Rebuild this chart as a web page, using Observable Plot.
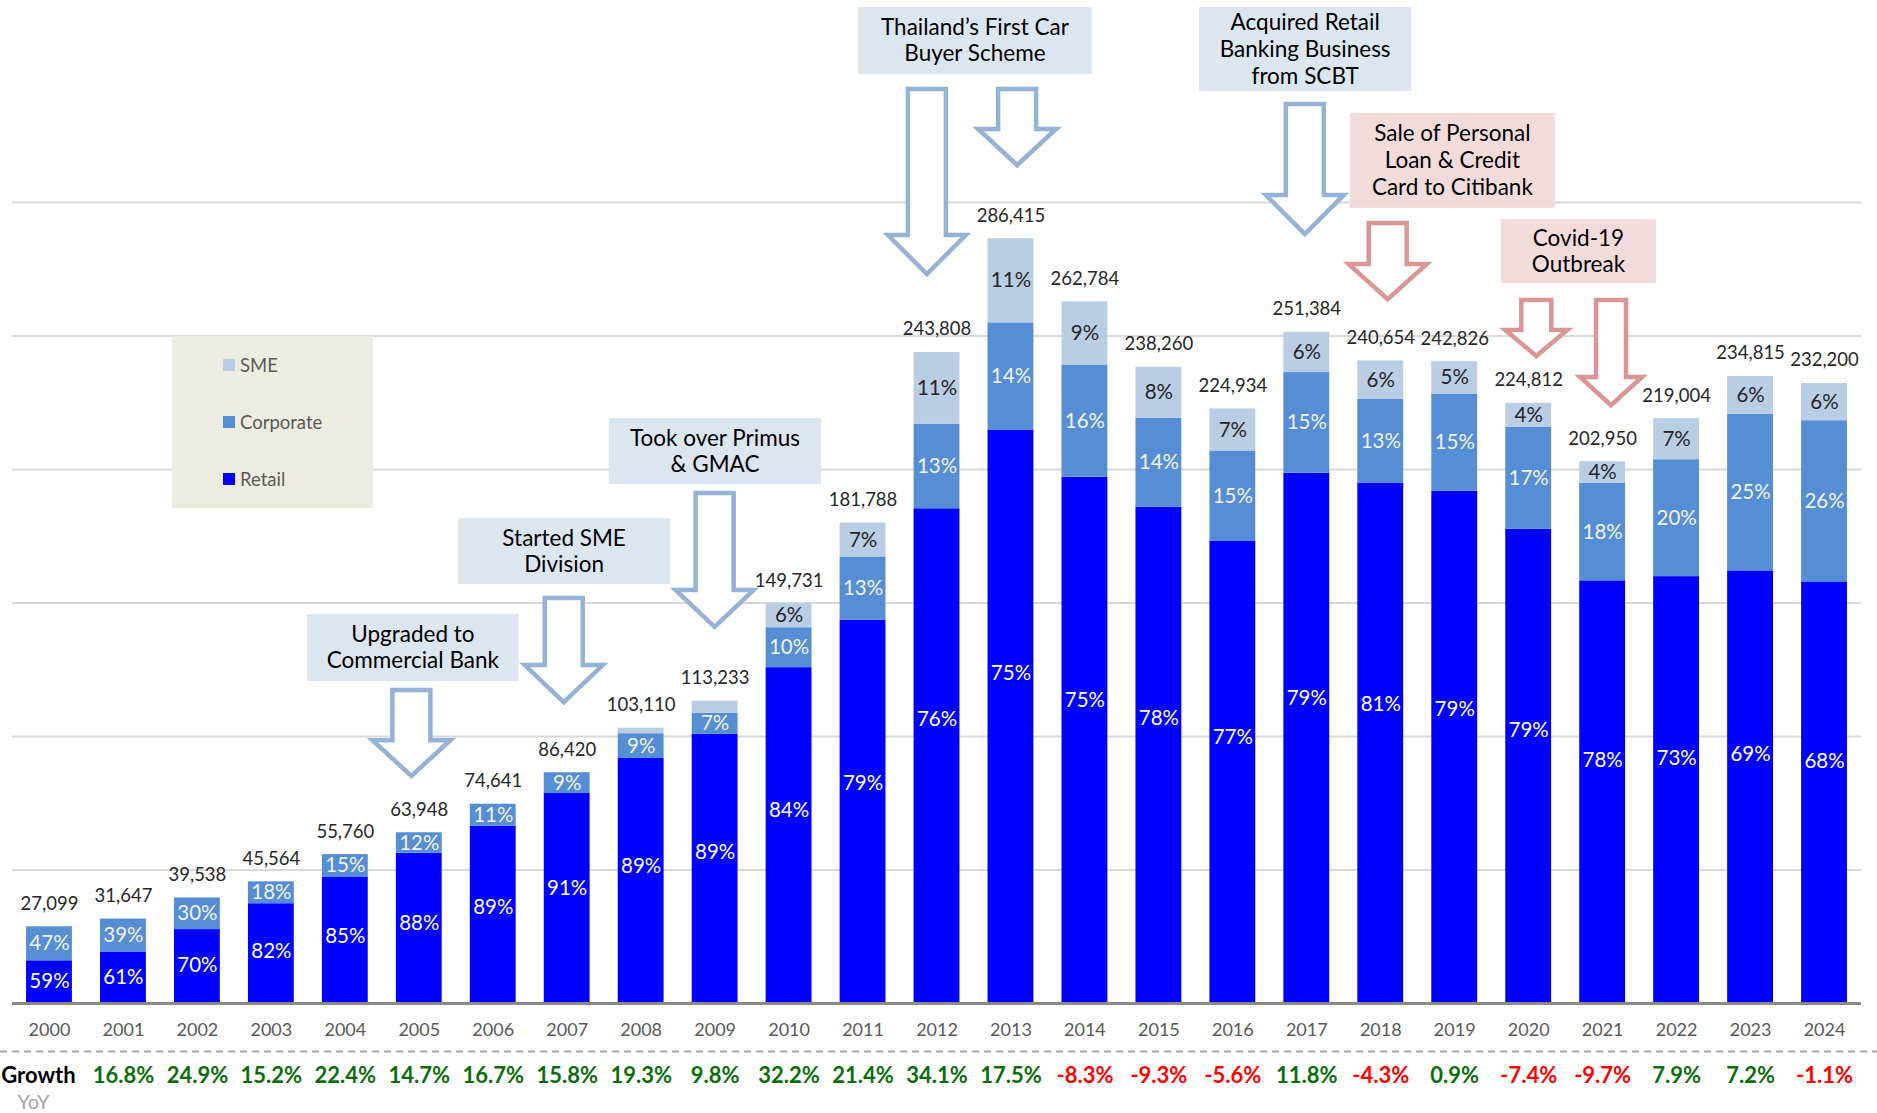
<!DOCTYPE html>
<html>
<head>
<meta charset="utf-8">
<script src="https://cdn.jsdelivr.net/npm/d3@7"></script>
<script src="https://cdn.jsdelivr.net/npm/@observablehq/plot@0.6"></script>
<style>
html, body { margin: 0; padding: 0; background: #fff; }
#wrap { position: relative; width: 1877px; height: 1113px; overflow: hidden; font-family: Lato, "Open Sans", sans-serif; }
#legend { position: absolute; left: 172px; top: 336px; width: 201px; height: 172px; background: #eeece1; }
.lg { position: absolute; left: 51px; height: 22px; font-size: 18.5px; color: #595959; display: flex; align-items: center; }
.lg .sw { width: 12px; height: 12px; display: inline-block; margin-right: 5px; }
</style>
</head>
<body>
<div id="wrap"></div>
<script>
// ---------- data ----------
const years = [2000, 2001, 2002, 2003, 2004, 2005, 2006, 2007, 2008, 2009, 2010, 2011, 2012,
               2013, 2014, 2015, 2016, 2017, 2018, 2019, 2020, 2021, 2022, 2023, 2024];
const totals = [27099, 31647, 39538, 45564, 55760, 63948, 74641, 86420, 103110, 113233, 149731, 181788, 243808,
                286415, 262784, 238260, 224934, 251384, 240654, 242826, 224812, 202950, 219004, 234815, 232200];
const retailPct    = [59, 61, 70, 82, 85, 88, 89, 91, 89, 89, 84, 79, 76, 75, 75, 78, 77, 79, 81, 79, 79, 78, 73, 69, 68];
const corporatePct = [47, 39, 30, 18, 15, 12, 11, 9, 9, 7, 10, 13, 13, 14, 16, 14, 15, 15, 13, 15, 17, 18, 20, 25, 26];
const smePct       = [0, 0, 0, 0, 0, 0, 0, 0, 2, 4, 6, 7, 11, 11, 9, 8, 7, 6, 6, 5, 4, 4, 7, 6, 6];
const growthYears = [2001, 2002, 2003, 2004, 2005, 2006, 2007, 2008, 2009, 2010, 2011, 2012,
                     2013, 2014, 2015, 2016, 2017, 2018, 2019, 2020, 2021, 2022, 2023, 2024];
const growthPct = [16.8, 24.9, 15.2, 22.4, 14.7, 16.7, 15.8, 19.3, 9.8, 32.2, 21.4, 34.1,
                   17.5, -8.3, -9.3, -5.6, 11.8, -4.3, 0.9, -7.4, -9.7, 7.9, 7.2, -1.1];
const segments = ["Retail", "Corporate", "SME"];
const segmentColors = ["#0000ff", "#558ed5", "#b9cde5"];
const gridValues = [50000, 100000, 150000, 200000, 250000, 300000];

// annotation boxes (x in fractional years, y in loan values)
const boxTexts = [["Upgraded to", "Commercial Bank"], ["Started SME", "Division"], ["Took over Primus", "& GMAC"],
                  ["Thailand\u2019s First Car", "Buyer Scheme"], ["Acquired Retail", "Banking Business", "from SCBT"],
                  ["Sale of Personal", "Loan & Credit", "Card to Citibank"], ["Covid-19", "Outbreak"]];
const boxX1 = [2003.49, 2005.53, 2007.57, 2010.94, 2015.55, 2017.59, 2019.63];
const boxX2 = [2006.35, 2008.40, 2010.44, 2014.10, 2018.42, 2020.36, 2021.73];
const boxYTop = [145700, 181600, 219100, 373000, 373000, 333300, 293600];
const boxYBottom = [120600, 156900, 194400, 347900, 341600, 297800, 269700];
const boxTone = ["blue", "blue", "blue", "blue", "blue", "red", "red"];

// annotation arrows
const arrowX = [2004.90, 2006.96, 2009.00, 2011.87, 2013.09, 2016.98, 2018.10, 2020.11, 2021.12];
const arrowTop = [118000, 152400, 191800, 343100, 343100, 337500, 292900, 264000, 264000];
const arrowHead = [99200, 127300, 155400, 288400, 328100, 303400, 277500, 252800, 235200];
const arrowTip = [83900, 111600, 139700, 271900, 312700, 286900, 262500, 241200, 222800];
const arrowTone = ["blue", "blue", "blue", "blue", "blue", "blue", "red", "red", "red"];
const arrowSize = ["big", "big", "big", "big", "big", "big", "big", "small", "small"];

// ---------- derived tables ----------
const pctBySeg = {Retail: retailPct, Corporate: corporatePct, SME: smePct};
const rows = [];
years.forEach((yr, i) => {
  let base = 0;
  for (const seg of segments) {
    const pct = pctBySeg[seg][i];
    const value = totals[i] * pct / 100;
    let mid = base + value / 2;
    if (seg === "Retail") mid = base + value * (0.5 + 0.075 * Math.min(1, value / 120000));
    rows.push({year: yr, seg, pct, value, y1: base, y2: base + value, mid});
    base += value;
  }
});
const tops = years.map((yr, i) => ({year: yr, total: totals[i],
  top: rows.filter(r => r.year === yr).reduce((s, r) => s + r.value, 0)}));
const growth = growthYears.map((yr, i) => ({year: yr, g: growthPct[i]}));

const PAD = 0.38;
const toneFill = {blue: "#dce6f1", red: "#f2dcdb"};
const toneStroke = {blue: "#95b3d7", red: "#d99694"};
const sizeDims = {big: {shaft: 19, head: 39}, small: {shaft: 15, head: 31}};
const fontFamily = "Lato, 'Open Sans', sans-serif";

function annotations(index, scales) {
  const sx = scales.x, sy = scales.y;
  const step = sx(years[1]) - sx(years[0]);
  const bw = typeof sx.bandwidth === "function" ? sx.bandwidth() : (sx.bandwidth ?? step * (1 - PAD));
  const xAt = yr => sx(years[0]) + bw / 2 + (yr - years[0]) * step;
  const g = d3.create("svg:g");
  arrowX.forEach((ax, i) => {
    const cx = xAt(ax), d = sizeDims[arrowSize[i]];
    const t = sy(arrowTop[i]) + 2, h = sy(arrowHead[i]) + 2, tip = sy(arrowTip[i]) - 3;
    const p = d3.path();
    p.moveTo(cx - d.shaft, t); p.lineTo(cx + d.shaft, t); p.lineTo(cx + d.shaft, h);
    p.lineTo(cx + d.head, h); p.lineTo(cx, tip); p.lineTo(cx - d.head, h);
    p.lineTo(cx - d.shaft, h); p.closePath();
    g.append("path").attr("d", p.toString()).attr("fill", "#fff")
      .attr("stroke", toneStroke[arrowTone[i]]).attr("stroke-width", 4.5).attr("stroke-linejoin", "miter");
  });
  boxTexts.forEach((lines, i) => {
    const x1 = xAt(boxX1[i]), x2 = xAt(boxX2[i]);
    const y1 = sy(boxYTop[i]), y2 = sy(boxYBottom[i]);
    g.append("rect").attr("x", x1).attr("y", y1).attr("width", x2 - x1).attr("height", y2 - y1)
      .attr("fill", toneFill[boxTone[i]]);
    const lh = lines.length > 2 ? 27 : 26;
    const cy = (y1 + y2) / 2 - (lines.length - 1) * lh / 2;
    lines.forEach((ln, j) => {
      g.append("text").attr("x", (x1 + x2) / 2).attr("y", cy + j * lh).attr("dy", "0.35em")
        .attr("text-anchor", "middle").attr("font-size", 22.5).attr("fill", "#000")
        .attr("font-family", fontFamily).text(ln);
    });
  });
  return g.node();
}

const fmt = d3.format(",");

const chart = Plot.plot({
  width: 1877,
  height: 1113,
  marginLeft: 12,
  marginRight: 16,
  marginTop: 202,
  marginBottom: 110,
  style: {fontFamily, background: "transparent", overflow: "visible"},
  x: {type: "band", domain: years, paddingInner: PAD, paddingOuter: PAD / 2, align: 0.5, round: false, axis: null},
  y: {domain: [0, 300000], axis: null},
  color: {domain: segments, range: segmentColors},
  marks: [
    Plot.ruleY(gridValues, {stroke: "#d9d9d9", strokeWidth: 2}),
    Plot.barY(rows, {x: "year", y1: "y1", y2: "y2", fill: "seg"}),
    Plot.ruleY([0], {stroke: "#898989", strokeWidth: 3}),
    Plot.text(rows.filter(r => r.value >= 6000), {
      x: "year", y: "mid", text: r => r.pct + "%", fontSize: 20.5,
      fill: r => r.seg === "SME" ? "#262626" : (r.seg === "Corporate" ? "#f2f2f2" : "#ffffff"),
      lineAnchor: "middle"
    }),
    Plot.text(tops, {x: "year", y: "top", text: d => fmt(d.total), fontSize: 18.5, fill: "#262626",
      dy: -23, lineAnchor: "middle"}),
    Plot.text(years, {x: d => d, frameAnchor: "bottom", dy: 27, text: d => String(d), fontSize: 18,
      fill: "#595959", lineAnchor: "middle"}),
    Plot.ruleY([0], {dy: 48, stroke: "#a6a6a6", strokeWidth: 2, strokeDasharray: "7,5",
      insetLeft: -12, insetRight: -16}),
    Plot.text(growth, {x: "year", frameAnchor: "bottom", dy: 72, text: d => d.g.toFixed(1) + "%",
      fontSize: 22, fontWeight: "bold", fill: d => d.g >= 0 ? "#0a6e0a" : "#ff0000", lineAnchor: "middle"}),
    Plot.text(["Growth"], {x: () => years[0], frameAnchor: "bottom", dy: 72, dx: -11, text: d => d,
      fontSize: 22, fontWeight: "bold", fill: "#000", lineAnchor: "middle"}),
    Plot.text(["YoY"], {x: () => years[0], frameAnchor: "bottom", dy: 99, dx: -16, text: d => d,
      fontSize: 20, fill: "#a6a6a6", lineAnchor: "middle"}),
    annotations
  ]
});

const wrap = document.getElementById("wrap");
wrap.appendChild(chart);

const legend = document.createElement("div");
legend.id = "legend";
const legendOrder = [2, 1, 0];
const legendTops = [18, 75, 132];
legendOrder.forEach((k, i) => {
  const item = document.createElement("div");
  item.className = "lg";
  item.style.top = legendTops[i] + "px";
  const sw = document.createElement("span");
  sw.className = "sw";
  sw.style.background = segmentColors[k];
  item.appendChild(sw);
  item.appendChild(document.createTextNode(segments[k]));
  legend.appendChild(item);
});
wrap.appendChild(legend);
</script>
</body>
</html>
